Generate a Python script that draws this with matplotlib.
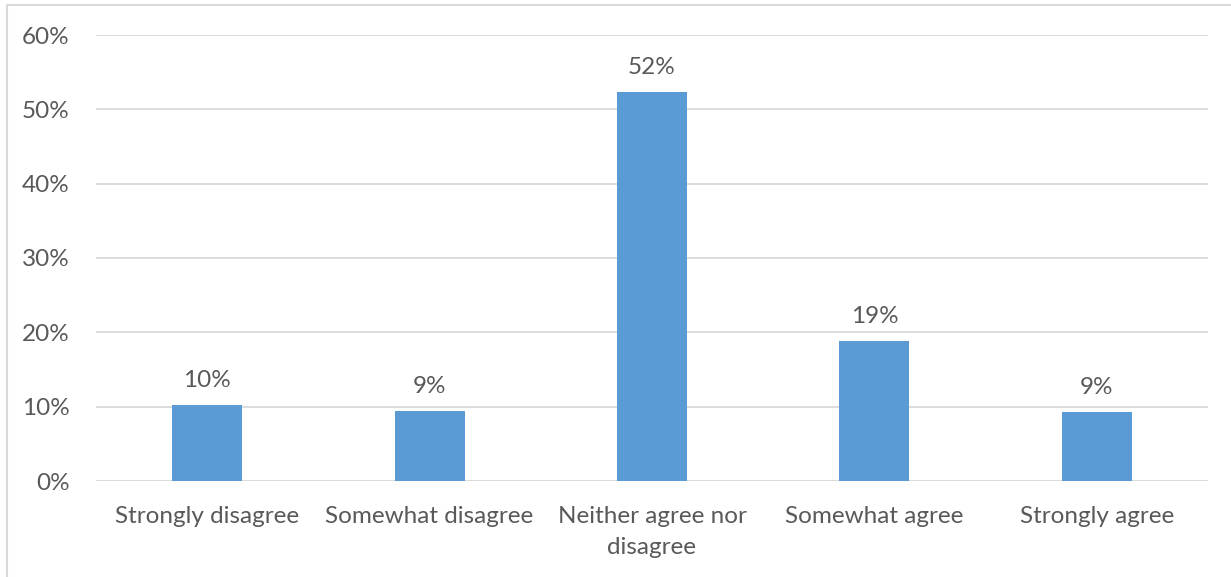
import matplotlib
matplotlib.use("Agg")
import matplotlib.pyplot as plt
from matplotlib.lines import Line2D
from matplotlib.ticker import FuncFormatter

categories = ["Strongly disagree", "Somewhat disagree", "Neither agree nor\ndisagree",
              "Somewhat agree", "Strongly agree"]
values = [0.102, 0.094, 0.523, 0.188, 0.093]
value_labels = ["10%", "9%", "52%", "19%", "9%"]
yticks = [0, 0.1, 0.2, 0.3, 0.4, 0.5, 0.6]

text_color = "#595959"
bar_color = "#5B9BD5"
grid_color = "#D9D9D9"
font = "Lato"
fs = 17.5

fig = plt.figure(figsize=(12.31, 5.77), dpi=100)
ax = fig.add_axes([96/1231, 1 - 481/577, (1208-96)/1231, (481-35)/577])

x = list(range(len(categories)))
ax.bar(x, values, width=0.315, color=bar_color, zorder=3)
for xi, v, lab in zip(x, values, value_labels):
    ax.annotate(lab, (xi, v), xytext=(0, 10), textcoords="offset points",
                ha="center", va="bottom", color=text_color, fontsize=fs, family=font)

ax.set_xlim(-0.5, 4.5)
ax.set_ylim(0, 0.6)
ax.set_yticks(yticks)
ax.yaxis.set_major_formatter(FuncFormatter(lambda v, p: f"{v*100:.0f}%"))
ax.set_xticks(x)
ax.set_xticklabels(categories, linespacing=1.6)
ax.tick_params(axis="both", length=0, colors=text_color, labelsize=fs)
ax.tick_params(axis="y", pad=19)
ax.tick_params(axis="x", pad=18)
for lab in ax.get_xticklabels() + ax.get_yticklabels():
    lab.set_family(font)
for s in ax.spines.values():
    s.set_visible(False)
ax.grid(axis="y", color=grid_color, linewidth=1.3, zorder=0)
ax.set_axisbelow(True)

fig.add_artist(Line2D([7/1231, 7/1231], [0, 1 - 5/577], transform=fig.transFigure,
                      color=grid_color, linewidth=1.5))
fig.add_artist(Line2D([7/1231, 1], [1 - 5/577, 1 - 5/577], transform=fig.transFigure,
                      color=grid_color, linewidth=1.5))

fig.savefig("out.png", dpi=100)
